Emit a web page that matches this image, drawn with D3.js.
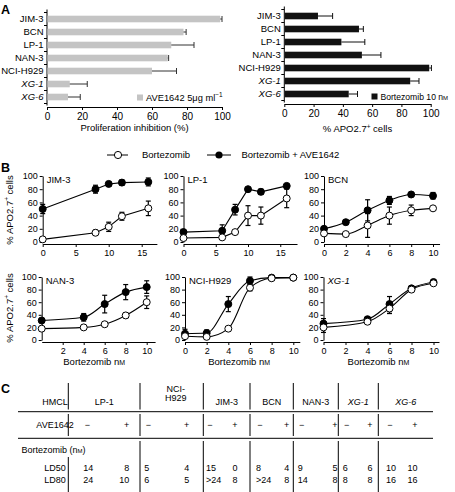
<!DOCTYPE html>
<html><head><meta charset="utf-8">
<script src="https://cdn.jsdelivr.net/npm/d3@7"></script>
<style>
body{margin:0;background:#fff}
svg{display:block;font-family:"Liberation Sans",Arial,Helvetica,sans-serif}
</style></head><body>
<svg id="c" width="455" height="492"></svg>
<script>
// ---------- DATA ----------
// Panel A
const aCategories = ["JIM-3","BCN","LP-1","NAN-3","NCI-H929","XG-1","XG-6"];
const aveInhibition    = [99, 78, 71, 69, 60, 13, 12];
const aveInhibitionErr = [1, 1.5, 13, 0.5, 14, 10, 7];
const bortApo    = [23, 51, 39, 53, 99, 86, 44];
const bortApoErr = [10, 3, 16, 13, 1.5, 6, 6];
const aTicks = [0,20,40,60,80,100];

// Panel B
const jim3Dose = [0,8,10,12,16];
const jim3Bort = [4,14,23,39,51];      const jim3BortErr = [2,4,7,6,11];
const jim3Combo = [50,80,88,90,91];    const jim3ComboErr = [7,6,3,4,6];

const lp1Dose = [0,6,8,10,12,16];
const lp1Bort = [6,7,15,40,40,66];     const lp1BortErr = [2,2,3,15,13,14];
const lp1Combo = [15,17,49,80,76,85];  const lp1ComboErr = [3,9,8,2,4,2];

const bcnDose = [0,2,4,6,8,10];
const bcnBort = [13,12,25,40,48,51];   const bcnBortErr = [3,2,18,13,8,2];
const bcnCombo = [20,30,48,63,72,70];  const bcnComboErr = [3,3,16,6,3,5];

const nan3Dose = [0,4,6,8,10];
const nan3Bort = [18,20,25,39,60];     const nan3BortErr = [2,2,2,4,10];
const nan3Combo = [31,36,57,76,84];    const nan3ComboErr = [3,6,14,12,10];

const h929Dose = [0,2,4,6,8,10];
const h929Bort = [6,5,18,83,98,99];    const h929BortErr = [2,2,2,5,1,1];
const h929Combo = [10,11,57,94,99,99]; const h929ComboErr = [7,5,12,6,1,1];

const xg1Dose = [0,4,6,8,10];
const xg1Bort = [20,29,50,80,90];      const xg1BortErr = [8,2,8,3,3];
const xg1Combo = [26,33,57,82,92];     const xg1ComboErr = [8,3,12,3,3];

const bYTicks = [0,20,40,60,80,100];
const ticks15 = [0,5,10,15];
const ticks10 = [0,2,4,6,8,10];
const ticks10no0 = [2,4,6,8,10];

// Panel C
const hmcl = ["LP-1","NCI-H929","JIM-3","BCN","NAN-3","XG-1","XG-6"];
const ld50Minus = ["14","5","15","8","9","6","10"];
const ld50Plus  = ["8","4","0","4","5","6","10"];
const ld80Minus = ["24","6",">24",">24","14","8","16"];
const ld80Plus  = ["10","5","8","8","8","8","16"];

// ---------- LAYOUT ----------
const svg = d3.select("#c");
const italicNames = new Set(["XG-1","XG-6"]);
function styleAxis(g, fs){
  g.selectAll("path,line").attr("stroke","#000").attr("stroke-width",1);
  g.selectAll("text").attr("font-size",fs).attr("fill","#000")
   .attr("font-family","Liberation Sans, Arial, sans-serif");
}
function addNM(t){ // "nM" with small-cap M
  t.append("tspan").text("n");
  t.append("tspan").style("font-variant","small-caps").text("m");
}

// Panel letters
[["A",1,14],["B",1,172],["C",1,393]].forEach(([l,x,y])=>
  svg.append("text").attr("x",x).attr("y",y).attr("font-size",12.5).attr("font-weight","bold").text(l));

// ---------- PANEL A ----------
function barPanel(o){
  const g = svg.append("g");
  const x = d3.scaleLinear([0,100],[o.x0,o.x1]);
  const y = d3.scalePoint(aCategories,[o.yTop,o.yBot]);
  const step = y.step();
  g.append("line").attr("x1",o.x0).attr("x2",o.x0).attr("y1",o.yTop-step/2-3).attr("y2",o.yBot+step/2+2).attr("stroke","#000");
  aCategories.concat([null]).forEach((c,i)=>{
    const yy = o.yTop - step/2 + i*step;
    g.append("line").attr("x1",o.x0-3).attr("x2",o.x0).attr("y1",yy).attr("y2",yy).attr("stroke","#000");
  });
  g.selectAll(".cl").data(aCategories).join("text")
    .attr("x",o.x0-3.5).attr("y",d=>y(d)+3.4).attr("text-anchor","end")
    .attr("font-size",9.5).attr("font-style",d=>italicNames.has(d)?"italic":"normal").text(d=>d);
  const bh = 6.6;
  g.selectAll(".b").data(aCategories).join("rect")
    .attr("x",o.x0+0.5).attr("y",d=>y(d)-bh/2).attr("height",bh)
    .attr("width",(d,i)=>x(o.vals[i])-o.x0-0.5).attr("fill",o.color);
  aCategories.forEach((d,i)=>{
    const xe = x(o.vals[i]+o.errs[i]);
    g.append("line").attr("x1",x(o.vals[i])).attr("x2",xe).attr("y1",y(d)).attr("y2",y(d)).attr("stroke",o.errColor).attr("stroke-width",1);
    g.append("line").attr("x1",xe).attr("x2",xe).attr("y1",y(d)-3).attr("y2",y(d)+3).attr("stroke",o.errColor).attr("stroke-width",1);
  });
  const ax = g.append("g").attr("transform",`translate(0,${o.axisY})`)
    .call(d3.axisBottom(x).tickValues(aTicks).tickSize(3).tickSizeOuter(0).tickPadding(3));
  styleAxis(ax,10);
  const t = g.append("text").attr("x",(o.x0+o.x1)/2).attr("y",o.titleY).attr("text-anchor","middle").attr("font-size",9.5);
  o.title(t);
  g.append("rect").attr("x",o.legX).attr("y",o.legY-6).attr("width",6).attr("height",6).attr("fill",o.color);
  const lt = g.append("text").attr("x",o.legX+9).attr("y",o.legY).attr("font-size",9.3);
  o.legend(lt);
}
barPanel({x0:47,x1:222,yTop:19,yBot:97,axisY:107,titleY:130.5,vals:aveInhibition,errs:aveInhibitionErr,
  color:"#c4c4c4",errColor:"#333",legX:137,legY:100.5,
  title:t=>t.text("Proliferation inhibition (%)"),
  legend:t=>{t.append("tspan").text("AVE1642 5");t.append("tspan").text("\u03bcg ml");
    t.append("tspan").attr("dy",-3.5).attr("font-size",6.5).text("\u22121");}});
barPanel({x0:284.3,x1:430.7,yTop:16,yBot:94,axisY:104,titleY:131.5,vals:bortApo,errs:bortApoErr,
  color:"#111",errColor:"#111",legX:371.5,legY:99.5,
  title:t=>{t.append("tspan").text("% APO2.7");t.append("tspan").attr("dy",-3).attr("font-size",6.5).text("+");
    t.append("tspan").attr("dy",3).text(" cells");},
  legend:t=>{t.attr("font-size",8.6);t.append("tspan").text("Bortezomib 10 ");addNM(t);}});

// ---------- PANEL B ----------
(function(){
  const g = svg.append("g");
  const yy = 155;
  g.append("line").attr("x1",107).attr("x2",128).attr("y1",yy).attr("y2",yy).attr("stroke","#000");
  g.append("circle").attr("cx",118).attr("cy",yy).attr("r",3.6).attr("fill","#fff").attr("stroke","#000");
  g.append("text").attr("x",142).attr("y",yy+3.3).attr("font-size",9.5).text("Bortezomib");
  g.append("line").attr("x1",207).attr("x2",231).attr("y1",yy).attr("y2",yy).attr("stroke","#000");
  g.append("circle").attr("cx",219).attr("cy",yy).attr("r",3.6).attr("fill","#000");
  g.append("text").attr("x",241.5).attr("y",yy+3.3).attr("font-size",9.5).text("Bortezomib + AVE1642");
})();

function subplot(o){
  const g = svg.append("g");
  const x = d3.scaleLinear([0,o.xMax],[o.x0,o.x0+o.xMax*o.xUnit]);
  const y = d3.scaleLinear([0,100],[o.y0,o.y100]);
  const ay = g.append("g").attr("transform",`translate(${o.x0},0)`)
    .call(d3.axisLeft(y).tickValues(bYTicks).tickSize(3).tickSizeOuter(0).tickPadding(2));
  styleAxis(ay,9);
  const ax = g.append("g").attr("transform",`translate(0,${o.y0+2})`)
    .call(d3.axisBottom(x).tickValues(o.xTicks).tickSize(3).tickSizeOuter(0).tickPadding(3));
  styleAxis(ax,9);
  g.append("text").attr("x",o.x0+4).attr("y",o.y100+7).attr("font-size",9.5)
    .attr("font-style",italicNames.has(o.name)?"italic":"normal").text(o.name);
  const line = d3.line().x(d=>x(d[0])).y(d=>y(d[1])).curve(o.curve);
  const series = [
    {vals:o.combo,errs:o.comboErr,fill:"#000"},
    {vals:o.bort,errs:o.bortErr,fill:"#fff"}
  ];
  series.forEach(s=>{
    g.append("path").attr("d",line(o.dose.map((d,i)=>[d,s.vals[i]])))
      .attr("fill","none").attr("stroke","#000").attr("stroke-width",1.1);
  });
  series.forEach(s=>{
    o.dose.forEach((d,i)=>{
      const xx = x(d), lo = y(s.vals[i]-s.errs[i]), hi = y(Math.min(s.vals[i]+s.errs[i],104));
      g.append("line").attr("x1",xx).attr("x2",xx).attr("y1",lo).attr("y2",hi).attr("stroke","#000").attr("stroke-width",1.2);
      [lo,hi].forEach(v=>g.append("line").attr("x1",xx-2.5).attr("x2",xx+2.5).attr("y1",v).attr("y2",v).attr("stroke","#000").attr("stroke-width",1.2));
    });
  });
  series.forEach(s=>{
    g.selectAll(null).data(o.dose).join("circle")
      .attr("cx",d=>x(d)).attr("cy",(d,i)=>y(s.vals[i])).attr("r",3.5)
      .attr("fill",s.fill).attr("stroke","#000").attr("stroke-width",1);
  });
  if(o.xTitle){
    const t = g.append("text").attr("x",x(5)).attr("y",o.y0+25).attr("text-anchor","middle").attr("font-size",9.5);
    t.append("tspan").text("Bortezomib ");addNM(t);
  }
}
const R1 = {y0:242,y100:176}, R2 = {y0:340,y100:277};
subplot({...R1,x0:42.7,xUnit:6.6,xMax:17.3,xTicks:ticks15,name:"JIM-3",dose:jim3Dose,bort:jim3Bort,bortErr:jim3BortErr,combo:jim3Combo,comboErr:jim3ComboErr,curve:d3.curveLinear});
subplot({...R1,x0:183.5,xUnit:6.45,xMax:17.6,xTicks:ticks15,name:"LP-1",dose:lp1Dose,bort:lp1Bort,bortErr:lp1BortErr,combo:lp1Combo,comboErr:lp1ComboErr,curve:d3.curveLinear});
subplot({...R1,x0:324,xUnit:10.9,xMax:10.6,xTicks:ticks10,name:"BCN",dose:bcnDose,bort:bcnBort,bortErr:bcnBortErr,combo:bcnCombo,comboErr:bcnComboErr,curve:d3.curveMonotoneX});
subplot({...R2,x0:41.7,xUnit:10.5,xMax:10.8,xTicks:ticks10no0,name:"NAN-3",dose:nan3Dose,bort:nan3Bort,bortErr:nan3BortErr,combo:nan3Combo,comboErr:nan3ComboErr,curve:d3.curveMonotoneX,xTitle:true});
subplot({...R2,x0:185,xUnit:10.83,xMax:10.6,xTicks:ticks10,name:"NCI-H929",dose:h929Dose,bort:h929Bort,bortErr:h929BortErr,combo:h929Combo,comboErr:h929ComboErr,curve:d3.curveMonotoneX,xTitle:true});
subplot({...R2,x0:323.5,xUnit:11,xMax:10.5,xTicks:ticks10,name:"XG-1",dose:xg1Dose,bort:xg1Bort,bortErr:xg1BortErr,combo:xg1Combo,comboErr:xg1ComboErr,curve:d3.curveMonotoneX,xTitle:true});

[210,308].forEach(cy=>{
  const t = svg.append("text").attr("transform",`translate(12.5,${cy}) rotate(-90)`).attr("text-anchor","middle").attr("font-size",9.5);
  t.append("tspan").text("% APO2.7");
  t.append("tspan").attr("dy",-3.5).attr("font-size",6.5).text("+");
  t.append("tspan").attr("dy",3.5).text(" cells");
});

// ---------- PANEL C ----------
(function(){
  const g = svg.append("g").attr("font-size",9);
  const colEdges = [68.3,140,203.3,250,293.3,338.3,378.3,433];
  const minusX = [87.3,148.3,210,260,301.7,346.7,390];
  const plusX  = [126.7,186.7,235,286.7,335,370,415];
  const tableLeft = 18, hLines = [411.7,438.3];
  hLines.forEach(yy=>g.append("line").attr("x1",tableLeft).attr("x2",colEdges[colEdges.length-1])
    .attr("y1",yy).attr("y2",yy).attr("stroke","#000").attr("stroke-width",1));
  colEdges.slice(0,-1).forEach((xx,i)=>{
    const segs = [[383,409.5],[414,436],[i===0?457:441,492]];
    segs.forEach(([a,b])=>g.append("line").attr("x1",xx).attr("x2",xx).attr("y1",a).attr("y2",b).attr("stroke","#000").attr("stroke-width",1));
  });
  g.append("text").attr("x",55).attr("y",405).attr("text-anchor","middle").text("HMCL");
  g.append("text").attr("x",55).attr("y",428).attr("text-anchor","middle").text("AVE1642");
  const bt = g.append("text").attr("x",21.5).attr("y",453);
  bt.append("tspan").text("Bortezomib (");addNM(bt);bt.append("tspan").text(")");
  g.append("text").attr("x",55).attr("y",471.3).attr("text-anchor","middle").text("LD50");
  g.append("text").attr("x",55).attr("y",483.3).attr("text-anchor","middle").text("LD80");
  hmcl.forEach((name,i)=>{
    const cx = (colEdges[i]+colEdges[i+1])/2;
    const it = italicNames.has(name)?"italic":"normal";
    if(name==="NCI-H929"){
      g.append("text").attr("x",cx+4).attr("y",391.5).attr("text-anchor","middle").text("NCI-");
      g.append("text").attr("x",cx+4).attr("y",400.5).attr("text-anchor","middle").text("H929");
    } else {
      g.append("text").attr("x",cx).attr("y",404.5).attr("text-anchor","middle").attr("font-style",it).text(name);
    }
    g.append("text").attr("x",minusX[i]).attr("y",428).attr("text-anchor","middle").text("\u2212");
    g.append("text").attr("x",plusX[i]).attr("y",428).attr("text-anchor","middle").text("+");
    g.append("text").attr("x",minusX[i]-4).attr("y",471.3).text(ld50Minus[i]);
    g.append("text").attr("x",plusX[i]+2.5).attr("y",471.3).attr("text-anchor","end").text(ld50Plus[i]);
    g.append("text").attr("x",minusX[i]-4).attr("y",483.3).text(ld80Minus[i]);
    g.append("text").attr("x",plusX[i]+2.5).attr("y",483.3).attr("text-anchor","end").text(ld80Plus[i]);
  });
})();
</script>
</body></html>
